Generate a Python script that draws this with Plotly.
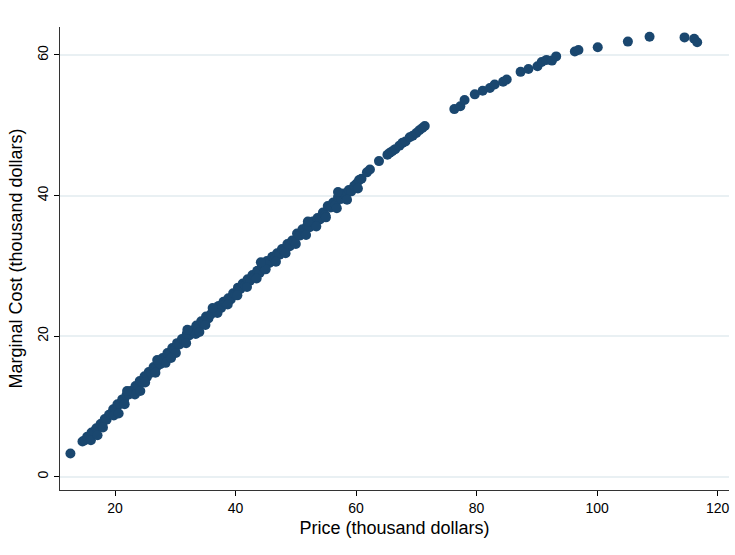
import plotly.graph_objects as go

# Price (thousand dollars) and estimated marginal cost (thousand dollars)
price = [
    12.6, 14.6, 15.0, 15.4, 15.8, 16.1, 16.5, 16.9, 17.2, 17.6, 17.9, 18.3, 18.6,
    19.0, 19.3, 19.7, 20.1, 20.4, 20.8, 21.2, 21.5, 21.9, 22.3, 22.6, 23.0, 23.4,
    23.8, 24.1, 24.5, 24.9, 25.3, 25.6, 26.0, 26.4, 26.8, 27.2, 27.5, 27.9, 28.3,
    28.7, 29.1, 29.5, 29.9, 30.3, 30.7, 31.1, 31.5, 31.9, 32.3, 32.7, 33.1, 33.5,
    33.9, 34.3, 34.7, 35.1, 35.5, 35.9, 36.8, 37.2, 37.6, 38.0, 38.4, 38.8, 39.2,
    39.6, 40.0, 40.4, 40.8, 41.2, 41.6, 42.0, 42.4, 42.8, 43.2, 43.6, 44.0, 44.4,
    44.8, 45.2, 45.6, 46.1, 46.5, 46.9, 47.3, 47.7, 48.1, 48.6, 49.0, 49.4, 49.8,
    50.2, 50.6, 51.1, 51.5, 51.9, 52.3, 52.8, 53.2, 53.6, 54.0, 54.5, 54.9, 55.3,
    55.8, 56.2, 56.6, 57.0, 57.5, 57.9, 58.3, 58.8, 59.2, 59.7, 60.1, 60.5, 60.9,
    61.8, 62.3, 63.8, 65.2, 65.6, 66.0, 66.5, 67.2, 67.7, 68.2, 68.9, 69.4, 70.0,
    70.5, 71.0, 71.4,
    16.0, 18.0, 19.8, 21.6, 23.3, 25.0, 26.7, 28.4, 30.1, 31.8, 33.4, 35.0, 37.0,
    38.7, 40.3, 41.9, 43.5, 45.0, 46.7, 48.3, 50.0, 51.7, 53.4, 55.0, 56.8, 58.5,
    60.3, 17.1, 20.6, 24.2, 29.3, 34.0, 22.0, 27.0, 32.0, 36.2, 44.2, 52.0, 57.0,
    76.3, 77.3, 78.0, 79.7, 81.0, 82.2, 83.0, 84.4, 85.0, 87.3, 88.6, 90.1, 90.8,
    91.6, 92.5, 93.2, 96.3, 96.9, 100.1, 105.1, 108.7, 114.5, 116.1, 116.6,
]
marginal_cost = [
    3.3, 5.0, 5.2, 5.7, 5.8, 6.3, 6.4, 6.9, 6.9, 7.5, 7.6, 8.2, 8.1,
    8.8, 8.9, 9.6, 9.6, 10.3, 10.3, 11.0, 10.9, 11.6, 11.7, 12.2, 12.1, 12.9,
    12.8, 13.6, 13.5, 14.3, 14.2, 14.9, 14.8, 15.6, 15.5, 16.3, 16.0, 16.9, 16.8,
    17.6, 17.5, 18.3, 18.1, 19.0, 18.8, 19.6, 19.4, 20.3, 20.1, 20.8, 20.7, 21.5,
    21.2, 22.1, 21.9, 22.8, 22.5, 23.1, 23.8, 24.3, 24.0, 24.9, 24.6, 25.4, 25.2,
    26.1, 25.9, 26.9, 26.7, 27.5, 27.2, 28.1, 27.9, 28.7, 28.4, 29.3, 29.0, 30.0,
    29.7, 30.7, 30.4, 31.3, 31.0, 31.8, 31.6, 32.4, 32.1, 33.1, 32.8, 33.6, 33.4,
    34.6, 34.3, 35.2, 34.8, 35.7, 35.5, 36.3, 36.0, 36.8, 36.6, 37.6, 37.2, 38.5,
    38.3, 39.0, 38.7, 39.8, 39.5, 40.3, 40.0, 40.8, 40.6, 41.4, 41.7, 42.2, 42.4,
    43.3, 43.7, 44.9, 45.8, 46.1, 46.3, 46.6, 47.1, 47.5, 47.7, 48.3, 48.5, 48.9,
    49.3, 49.6, 49.9,
    5.2, 7.0, 8.7, 10.3, 11.7, 13.4, 14.8, 16.2, 17.6, 19.0, 20.3, 21.6, 23.3,
    24.5, 25.8, 27.0, 28.2, 29.5, 30.6, 31.8, 33.1, 34.4, 35.6, 36.9, 38.2, 39.4,
    41.0, 5.9, 9.0, 12.2, 16.9, 20.6, 12.2, 16.6, 20.9, 24.0, 30.5, 36.3, 40.5,
    52.3, 52.7, 53.6, 54.4, 54.9, 55.3, 55.8, 56.2, 56.5, 57.6, 58.0, 58.4, 59.0,
    59.3, 59.2, 59.8, 60.5, 60.7, 61.1, 61.9, 62.6, 62.5, 62.3, 61.8,
]

x_ticks = [20, 40, 60, 80, 100, 120]
y_ticks = [0, 20, 40, 60]

NAVY = "#1a476f"
FONT = "Liberation Sans, Arial, Helvetica, sans-serif"

fig = go.Figure(
    go.Scatter(
        x=price,
        y=marginal_cost,
        mode="markers",
        marker=dict(color=NAVY, size=10, line=dict(width=0)),
        hoverinfo="x+y",
    )
)

fig.update_layout(
    width=735,
    height=555,
    margin=dict(l=60, r=6, t=27, b=65),
    paper_bgcolor="white",
    plot_bgcolor="white",
    showlegend=False,
    font=dict(family=FONT, color="black"),
)

fig.update_xaxes(
    range=[10.87, 121.88],
    tickvals=x_ticks,
    ticks="outside",
    ticklen=5,
    tickcolor="black",
    tickfont=dict(size=14),
    showgrid=False,
    zeroline=False,
    showline=True,
    linecolor="#333333",
    linewidth=1,
    title=dict(text="Price (thousand dollars)", font=dict(size=18), standoff=6),
    automargin=False,
)

fig.update_yaxes(
    range=[-1.89, 63.98],
    tickvals=y_ticks,
    tickangle=-90,
    ticks="outside",
    ticklen=5,
    tickcolor="black",
    tickfont=dict(size=14),
    showgrid=True,
    gridcolor="#e9f0f3",
    gridwidth=1.5,
    zeroline=False,
    showline=True,
    linecolor="#333333",
    linewidth=1,
    title=dict(text="Marginal Cost (thousand dollars)", font=dict(size=18), standoff=8),
    automargin=False,
)

fig.write_html("out.html")
